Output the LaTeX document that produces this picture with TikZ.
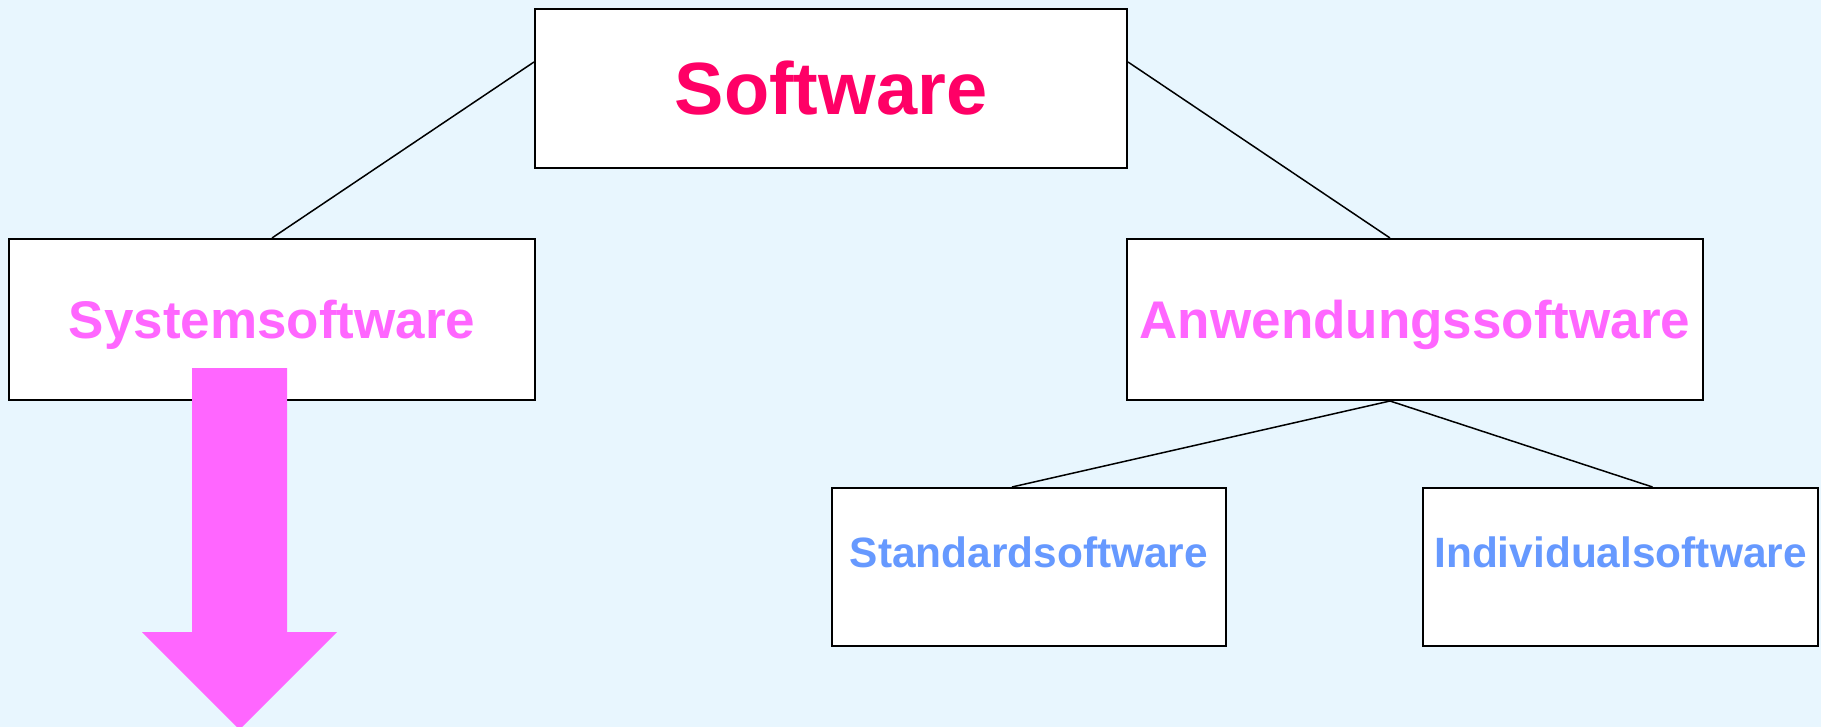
\documentclass[tikz,border=0pt]{standalone}
\usepackage{fontspec}
\setmainfont{Liberation Sans}
\definecolor{bgblue}{RGB}{232,246,254}
\definecolor{softred}{RGB}{255,0,102}
\definecolor{syspink}{RGB}{255,102,255}
\definecolor{appblue}{RGB}{102,153,255}
\begin{document}
\begin{tikzpicture}[x=0.5pt, y=-0.5pt,
  box/.style={draw, line width=1pt, fill=white, inner sep=0pt},
  link/.style={line width=0.75pt}]
\fill[bgblue] (0,0) rectangle (1821,727);
\useasboundingbox (0,0) rectangle (1821,727);
\node[box, minimum width=296pt, minimum height=79.5pt, text=softred, font=\bfseries\fontsize{37}{40}\selectfont, text height=26.5pt, text depth=0pt] (sw) at (831,88.5){Software};
\node[box, minimum width=263pt, minimum height=80.5pt, text=syspink, font=\bfseries\fontsize{26.5}{30}\selectfont, text height=19pt, text depth=0pt] (sys) at (272,319.5){Systemsoftware};
\node[box, minimum width=288pt, minimum height=80.5pt, text=syspink, font=\bfseries\fontsize{26.5}{30}\selectfont, text height=19pt, text depth=0pt] (anw) at (1415,319.5){Anwendungssoftware};
\node[box, minimum width=197pt, minimum height=79pt, text=appblue, font=\bfseries\fontsize{21.2}{24}\selectfont, text height=10pt, text depth=10pt] (std) at (1029,567){Standardsoftware};
\node[box, minimum width=197.5pt, minimum height=79pt, text=appblue, font=\bfseries\fontsize{21.2}{24}\selectfont, text height=10pt, text depth=10pt] (ind) at (1620.5,567){Individualsoftware};
\draw[link]([yshift=13.25pt]sw.west) -- (sys.north);
\draw[link]([yshift=13.25pt]sw.east) -- ([xshift=-12.5pt]anw.north);
\draw[link]([xshift=-12.5pt]anw.south) -- ([xshift=-8.5pt]std.north);
\draw[link]([xshift=-12.5pt]anw.south) -- ([xshift=16pt]ind.north);
% pink arrow
\fill[syspink] (192,368) -- (287,368) -- (287,632) -- (337,632) -- (239.5,729.5) -- (142,632) -- (192,632) -- cycle;
\end{tikzpicture}
\end{document}
